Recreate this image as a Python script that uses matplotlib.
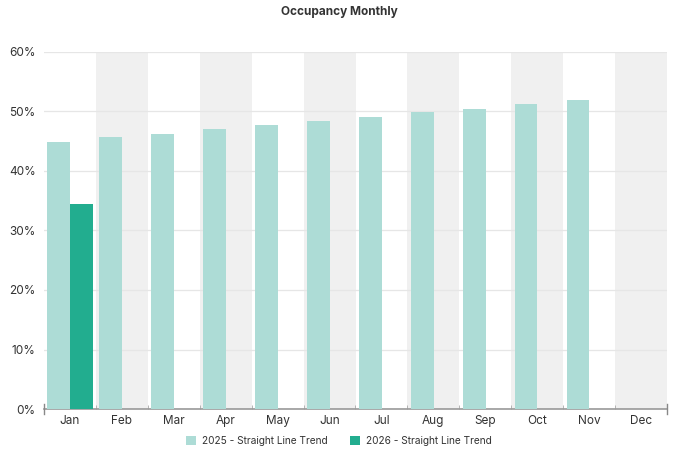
import numpy as np
import matplotlib.pyplot as plt
from matplotlib.ticker import FuncFormatter, FixedLocator

plt.rcParams['font.family'] = ['Inter', 'DejaVu Sans']

months = ['Jan', 'Feb', 'Mar', 'Apr', 'May', 'Jun', 'Jul', 'Aug', 'Sep', 'Oct', 'Nov', 'Dec']
trend_2025 = [44.9, 45.7, 46.3, 47.0, 47.7, 48.4, 49.0, 49.9, 50.5, 51.2, 51.9, np.nan]
trend_2026 = [34.4] + [np.nan] * 11

c25 = '#addcd6'
c26 = '#22ad8f'

fig = plt.figure(figsize=(6.78, 4.53), dpi=100)
ax = fig.add_axes([44 / 678, 1 - 409 / 453, 623 / 678, 357 / 453])

x = np.arange(len(months))
for i in x:
    if i % 2 == 1:
        ax.axvspan(i - 0.5, i + 0.5, color='#f0f0f0', zorder=0, lw=0)

ax.bar(x - 0.215, trend_2025, width=0.44, color=c25, zorder=3, label='2025 - Straight Line Trend')
ax.bar(x + 0.225, trend_2026, width=0.44, color=c26, zorder=3, label='2026 - Straight Line Trend')

ax.set_xlim(-0.5, 11.5)
ax.set_ylim(0, 60)
ax.set_yticks(np.arange(0, 61, 10))
ax.yaxis.set_major_formatter(FuncFormatter(lambda v, p: f'{v:.0f}%'))
ax.grid(axis='y', color='#e6e6e6', lw=0.9, zorder=1)

ax.set_xticks(x)
ax.set_xticklabels(months)
ax.xaxis.set_minor_locator(FixedLocator(np.arange(0.5, 11, 1)))
ax.tick_params(axis='x', which='major', length=0, pad=4, labelsize=8.5, labelcolor='#333333')
ax.tick_params(axis='x', which='minor', length=3, direction='in', color='#aaaaaa')
ax.tick_params(axis='y', length=0, pad=6, labelsize=8.5, labelcolor='#333333')

for s in ['top', 'right', 'left']:
    ax.spines[s].set_visible(False)
ax.spines['bottom'].set_color('#999999')
ax.spines['bottom'].set_linewidth(1.2)
for xe in [-0.5, 11.5]:
    ax.plot([xe, xe], [-0.8, 0.8], color='#888888', lw=1, clip_on=False, zorder=4)

fig.text(0.5, 1 - 12 / 453, 'Occupancy Monthly', ha='center', va='center',
         fontsize=8.5, fontweight='bold', color='#333333')

fig.legend(loc='center', bbox_to_anchor=(0.5, 1 - 441 / 453), ncol=2, frameon=False,
           fontsize=7.3, handlelength=1.0, handleheight=1.0, columnspacing=2.2, handletextpad=0.6,
           labelcolor='#333333')

fig.savefig('out.png', dpi=100)
